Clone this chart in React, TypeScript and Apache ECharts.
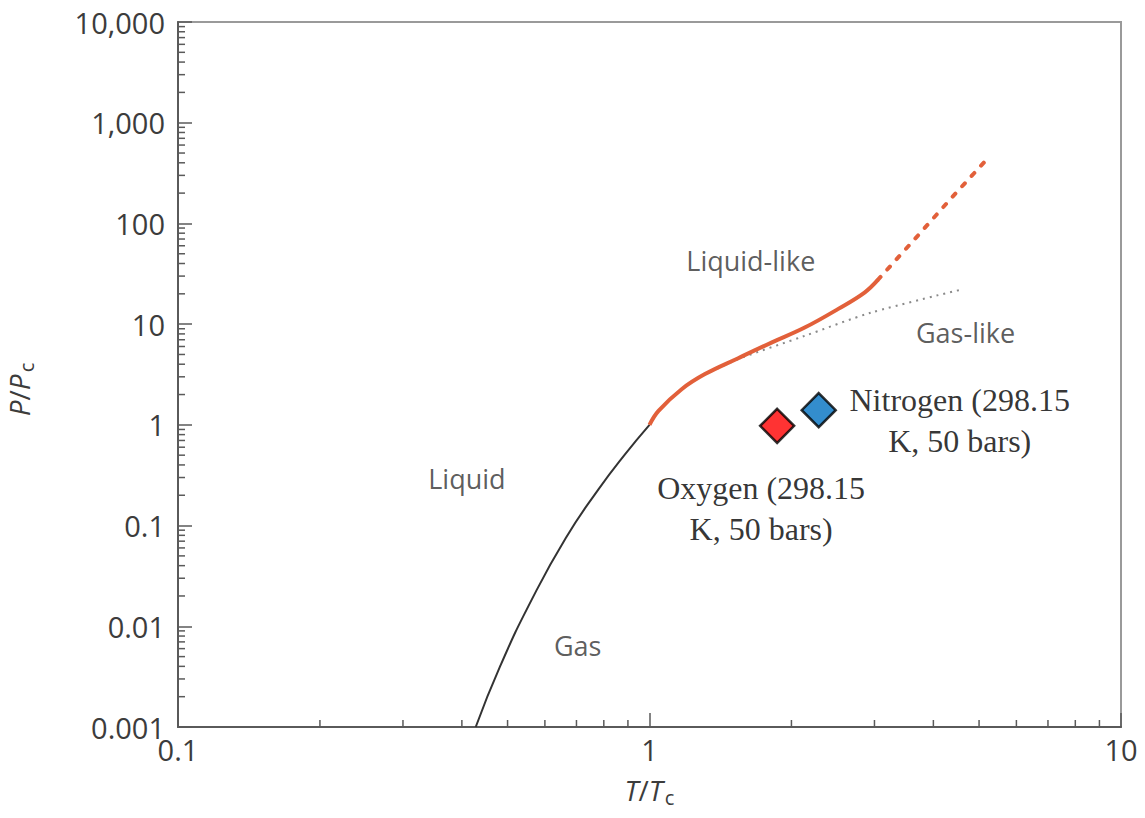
import React, { useEffect, useRef } from "react";
import * as echarts from "echarts";

// Axis tick labels
const xTickLabels = ["0.1", "1", "10"];
const yTickLabels = ["0.001", "0.01", "0.1", "1", "10", "100", "1,000", "10,000"];
const minorMultipliers = [2, 3, 4, 5, 6, 7, 8, 9];
const xDecades = [0.1, 1];
const yDecades = [0.001, 0.01, 0.1, 1, 10, 100, 1000];

// Liquid–gas coexistence curve (black)
const coexT = [0.428, 0.482, 0.563, 0.664, 0.78, 0.888, 1.0];
const coexP = [0.001, 0.004, 0.0185, 0.075, 0.23, 0.512, 1.0];

// Widom-like line (orange, solid)
const widomT = [1.0, 1.045, 1.17, 1.311, 1.542, 1.814, 2.134, 2.509, 2.858, 3.05];
const widomP = [1.0, 1.377, 2.26, 3.19, 4.59, 6.56, 9.25, 14.1, 20.6, 27.5];

// Widom-like line extrapolation (orange, dashed)
const widomExtT = [3.05, 3.705, 4.39, 5.16];
const widomExtP = [27.5, 75.3, 183.7, 418.6];

// Grey dotted line
const dotT = [1.311, 1.542, 2.134, 2.95, 4.54];
const dotP = [3.15, 4.49, 7.65, 13.0, 21.8];

// Gas points
const oxygenPoint = [1.865, 0.977];
const nitrogenPoint = [2.285, 1.4];

// Region labels
const regionNames = ["Liquid-like", "Gas-like", "Liquid", "Gas"];
const regionT = [1.64, 4.68, 0.41, 0.704];
const regionP = [42.5, 8.2, 0.291, 0.00638];

const sans = "Open Sans";
const serif = "Liberation Serif";
const labelColor = "#3c3c3c";

const zip = (a: number[], b: number[]) => a.map((v, i) => [v, b[i]]);

export default function App() {
  const ref = useRef<HTMLDivElement>(null);

  useEffect(() => {
    if (!ref.current) return;
    const chart = echarts.init(ref.current, undefined, { renderer: "svg" });

    const xMinor: number[][] = [];
    xDecades.forEach((d) => minorMultipliers.forEach((m) => xMinor.push([d * m, 0.001])));
    const yMinor: number[][] = [];
    yDecades.forEach((d) => minorMultipliers.forEach((m) => yMinor.push([0.1, d * m])));

    const nameRich = {
      i: { fontFamily: sans, fontStyle: "italic", fontSize: 28, color: labelColor },
      n: { fontFamily: sans, fontSize: 28, color: labelColor },
      sub: { fontFamily: sans, fontSize: 20, color: labelColor, padding: [14, 0, 0, 2] },
    };

    const option: any = {
      animation: false,
      backgroundColor: "#ffffff",
      grid: {
        left: 178,
        right: 24,
        top: 22,
        bottom: 91,
        containLabel: false,
        outerBoundsMode: "none",
        show: true,
        borderColor: "#9a9a9a",
        borderWidth: 2,
      },
      xAxis: {
        type: "log",
        logBase: 10,
        min: 0.1,
        max: 10,
        splitNumber: 2,
        name: "{i|T}{n|/}{i|T}{sub|c}",
        nameLocation: "middle",
        nameGap: 46,
        nameTextStyle: { rich: nameRich },
        axisLine: { show: true, lineStyle: { color: "#5a5a5a", width: 2 } },
        axisTick: { show: true, inside: true, length: 14, lineStyle: { color: "#5a5a5a", width: 1.5 } },
        splitLine: { show: false },
        axisLabel: {
          margin: 8,
          fontFamily: sans,
          fontSize: 29,
          color: labelColor,
          showMinLabel: true,
          showMaxLabel: true,
          formatter: (v: number) => xTickLabels[Math.round(Math.log10(v)) + 1],
        },
      },
      yAxis: {
        type: "log",
        logBase: 10,
        min: 0.001,
        max: 10000,
        splitNumber: 7,
        name: "{i|P}{n|/}{i|P}{sub|c}",
        nameLocation: "middle",
        nameRotate: 90,
        nameGap: 142,
        nameTextStyle: { padding: [0, 30, 0, 0], rich: nameRich },
        axisLine: { show: true, lineStyle: { color: "#5a5a5a", width: 2 } },
        axisTick: { show: true, inside: true, length: 14, lineStyle: { color: "#5a5a5a", width: 1.5 } },
        splitLine: { show: false },
        axisLabel: {
          margin: 13,
          fontFamily: sans,
          fontSize: 29,
          color: labelColor,
          showMinLabel: true,
          showMaxLabel: true,
          formatter: (v: number) => yTickLabels[Math.round(Math.log10(v)) + 3],
        },
      },
      series: [
        {
          type: "custom",
          name: "x minor ticks",
          silent: true,
          data: xMinor,
          renderItem: (_p: any, api: any) => {
            const pt = api.coord([api.value(0), api.value(1)]);
            return {
              type: "line",
              shape: { x1: pt[0], y1: pt[1], x2: pt[0], y2: pt[1] - 7 },
              style: { stroke: "#5a5a5a", lineWidth: 1.5 },
            };
          },
        },
        {
          type: "custom",
          name: "y minor ticks",
          silent: true,
          data: yMinor,
          renderItem: (_p: any, api: any) => {
            const pt = api.coord([api.value(0), api.value(1)]);
            return {
              type: "line",
              shape: { x1: pt[0], y1: pt[1], x2: pt[0] + 7, y2: pt[1] },
              style: { stroke: "#5a5a5a", lineWidth: 1.5 },
            };
          },
        },
        {
          type: "line",
          name: "dotted",
          data: zip(dotT, dotP),
          smooth: 0.3,
          symbol: "none",
          silent: true,
          lineStyle: { color: "#8a8a8a", width: 2, type: [2, 5] },
        },
        {
          type: "line",
          name: "coexistence",
          data: zip(coexT, coexP),
          smooth: 0.5,
          symbol: "none",
          silent: true,
          lineStyle: { color: "#333333", width: 2 },
        },
        {
          type: "line",
          name: "widom",
          data: zip(widomT, widomP),
          smooth: 0.4,
          symbol: "none",
          silent: true,
          lineStyle: { color: "#e2603a", width: 4 },
        },
        {
          type: "line",
          name: "widom extension",
          data: zip(widomExtT, widomExtP),
          symbol: "none",
          silent: true,
          lineStyle: { color: "#e2603a", width: 4, type: [4, 10], cap: "round" },
        },
        {
          type: "scatter",
          name: "regions",
          silent: true,
          symbolSize: 0,
          data: regionNames.map((n, i) => ({ name: n, value: [regionT[i], regionP[i]] })),
          label: {
            show: true,
            position: "inside",
            formatter: "{b}",
            fontFamily: sans,
            fontSize: 27,
            color: "#333333",
          },
        },
        {
          type: "scatter",
          name: "gases",
          symbol: "diamond",
          symbolSize: 34,
          data: [
            {
              name: "Oxygen",
              value: oxygenPoint,
              itemStyle: { color: "#ff0000", borderColor: "#000000", borderWidth: 2.5 },
              label: {
                show: true,
                position: "inside",
                align: "center",
                offset: [-16, 83],
                formatter: "Oxygen (298.15\nK, 50 bars)",
                fontFamily: serif,
                fontSize: 32,
                lineHeight: 41,
                color: "#000000",
              },
            },
            {
              name: "Nitrogen",
              value: nitrogenPoint,
              itemStyle: { color: "#0070c0", borderColor: "#000000", borderWidth: 2.5 },
              label: {
                show: true,
                position: "inside",
                align: "center",
                offset: [141, 10],
                formatter: "Nitrogen (298.15\nK, 50 bars)",
                fontFamily: serif,
                fontSize: 32,
                lineHeight: 41,
                color: "#000000",
              },
            },
          ],
        },
      ],
    };

    chart.setOption(option);
    return () => chart.dispose();
  }, []);

  return (
    <div
      ref={ref}
      style={{ position: "fixed", left: 0, top: 0, width: 1145, height: 818, background: "#fff" }}
    />
  );
}
